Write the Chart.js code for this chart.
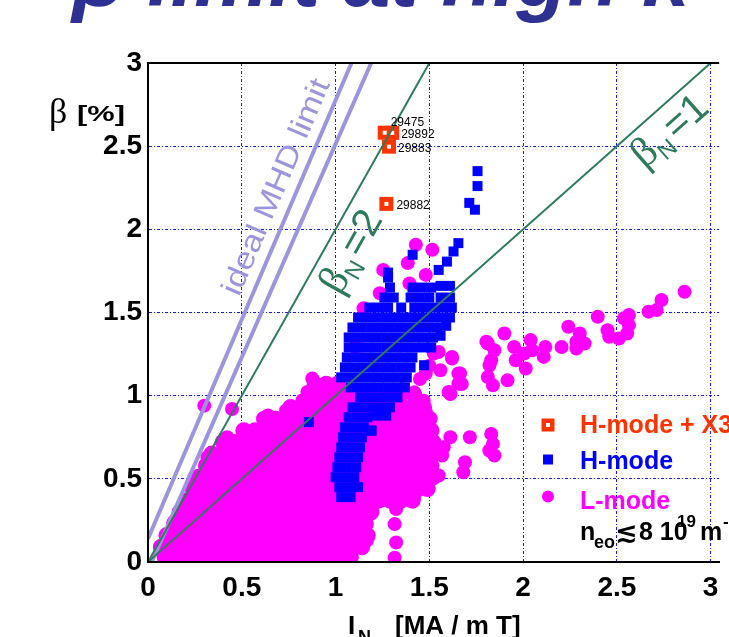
<!DOCTYPE html>
<html>
<head>
<meta charset="utf-8">
<script src="https://cdn.jsdelivr.net/npm/chart.js@4.4.1/dist/chart.umd.min.js"></script>
<style>
  html, body { margin: 0; padding: 0; background: #fff; overflow: hidden; }
  canvas { display: block; }
</style>
</head>
<body>
<canvas id="betaChart" width="729" height="637"></canvas>
<script>
// axes
const xTicks = [0, 0.5, 1, 1.5, 2, 2.5, 3];
const xTickLabels = ['0', '0.5', '1', '1.5', '2', '2.5', '3'];
const yTicks = [0, 0.5, 1, 1.5, 2, 2.5, 3];
const yTickLabels = ['0', '0.5', '1', '1.5', '2', '2.5', '3'];

// reference lines  beta = betaN * I_N  and the ideal MHD limit
const betaN1Line = [[0, 0], [3.05, 3.05]];
const betaN2Line = [[0, 0], [1.53, 3.06]];
const mhdLineA = [[0, 0.14], [1.085, 3.0]];
const mhdLineB = [[0.02, 0], [1.19, 3.0]];

// L-mode, dense part read row by row (beta value, then I_N values on that row)
const lModeRowBeta = [0.03, 0.09, 0.16, 0.23, 0.30, 0.37, 0.44, 0.51, 0.58, 0.65, 0.72, 0.79, 0.86, 0.93, 1.00, 1.07];
const lModeRowIN = [
  [0.09, 0.15, 0.21, 0.28, 0.34, 0.40, 0.47, 0.53, 0.59, 0.66, 0.72, 0.78, 0.85, 0.91, 0.97, 1.03, 1.08],
  [0.07, 0.13, 0.19, 0.25, 0.31, 0.37, 0.43, 0.49, 0.55, 0.61, 0.67, 0.73, 0.79, 0.85, 0.91, 0.97, 1.03, 1.09, 1.14],
  [0.10, 0.16, 0.22, 0.28, 0.34, 0.40, 0.46, 0.52, 0.58, 0.64, 0.70, 0.76, 0.82, 0.88, 0.94, 1.00, 1.06, 1.12, 1.17],
  [0.14, 0.20, 0.26, 0.32, 0.38, 0.44, 0.50, 0.56, 0.62, 0.68, 0.74, 0.80, 0.86, 0.92, 0.98, 1.04, 1.10, 1.16],
  [0.17, 0.23, 0.29, 0.35, 0.41, 0.47, 0.53, 0.59, 0.65, 0.71, 0.77, 0.83, 0.89, 0.95, 1.01, 1.07, 1.13, 1.19],
  [0.21, 0.27, 0.33, 0.39, 0.45, 0.51, 0.57, 0.63, 0.69, 0.75, 0.81, 0.87, 0.93, 0.99, 1.05, 1.11, 1.17, 1.23, 1.29, 1.35, 1.41],
  [0.24, 0.30, 0.36, 0.42, 0.48, 0.54, 0.60, 0.66, 0.72, 0.78, 0.84, 0.90, 0.96, 1.02, 1.08, 1.14, 1.20, 1.26, 1.32, 1.38, 1.44, 1.49],
  [0.27, 0.33, 0.39, 0.45, 0.51, 0.57, 0.63, 0.69, 0.75, 0.81, 0.87, 0.93, 0.99, 1.05, 1.11, 1.17, 1.23, 1.29, 1.35, 1.41, 1.47, 1.52],
  [0.31, 0.37, 0.43, 0.49, 0.55, 0.61, 0.67, 0.73, 0.79, 0.85, 0.91, 0.97, 1.03, 1.09, 1.15, 1.21, 1.27, 1.33, 1.39, 1.45, 1.51],
  [0.34, 0.40, 0.46, 0.52, 0.58, 0.64, 0.70, 0.76, 0.82, 0.88, 0.94, 1.00, 1.06, 1.12, 1.18, 1.24, 1.30, 1.36, 1.42, 1.48, 1.52],
  [0.40, 0.46, 0.52, 0.58, 0.64, 0.70, 0.76, 0.82, 0.88, 0.94, 1.00, 1.06, 1.12, 1.18, 1.24, 1.30, 1.36, 1.42, 1.48, 1.52],
  [0.51, 0.57, 0.63, 0.69, 0.75, 0.81, 0.87, 0.93, 0.99, 1.05, 1.11, 1.17, 1.23, 1.29, 1.35, 1.41, 1.47, 1.51],
  [0.62, 0.68, 0.74, 0.80, 0.86, 0.92, 0.98, 1.04, 1.10, 1.16, 1.22, 1.28, 1.34, 1.40, 1.46, 1.50],
  [0.76, 0.82, 0.88, 0.94, 1.00, 1.06, 1.12, 1.18, 1.24, 1.30, 1.36, 1.42, 1.47],
  [0.86, 0.92, 0.98, 1.04, 1.10, 1.16, 1.22, 1.28, 1.34, 1.42],
  [0.89, 0.95, 1.01]
];

// L-mode, scattered points  [I_N, beta]
const lModeScatter = [
  [0.30, 0.94], [0.448, 0.92], [0.876, 1.103], [0.85, 1.022], [0.909, 1.014], [0.824, 0.972],
  [0.736, 0.911], [0.64, 0.881], [0.509, 0.79], [0.422, 0.75], [0.405, 0.69], [0.317, 0.63],
  [0.247, 0.509], [0.195, 0.368], [0.142, 0.247], [0.107, 0.147], [0.081, 0.086],
  [1.612, 0.75], [1.577, 0.69], [1.568, 0.64], [1.716, 0.75], [1.69, 0.60], [1.681, 0.54],
  [1.83, 0.77], [1.839, 0.71], [1.847, 0.64], [1.82, 0.67], [1.55, 0.52], [1.612, 1.01],
  [1.673, 1.07], [1.323, 0.318], [1.315, 0.228], [1.323, 0.117], [1.315, 0.026], [1.166, 0.127],
  [1.419, 0.388], [1.481, 0.448],
  [2.861, 1.625], [2.738, 1.575], [2.712, 1.515], [2.669, 1.505], [2.564, 1.485], [2.538, 1.465],
  [2.564, 1.424], [2.555, 1.374], [2.511, 1.344], [2.45, 1.394], [2.398, 1.474], [2.459, 1.354],
  [2.302, 1.374], [2.241, 1.414], [2.284, 1.324], [2.328, 1.314], [2.205, 1.293], [2.284, 1.284],
  [2.118, 1.293], [2.11, 1.233], [2.04, 1.334], [2.048, 1.273], [2.005, 1.253], [2.014, 1.163],
  [1.952, 1.293], [1.961, 1.213], [1.90, 1.374], [1.804, 1.324], [1.847, 1.273], [1.821, 1.183],
  [1.812, 1.112], [1.839, 1.062], [1.917, 1.092], [1.664, 1.133], [1.655, 1.072], [1.612, 1.012],
  [1.621, 1.223], [1.55, 1.263], [1.559, 1.153],
  [1.428, 1.907], [1.516, 1.877], [1.385, 1.797], [1.254, 1.756], [1.236, 1.616], [1.394, 1.675],
  [1.481, 1.726], [1.149, 1.525], [1.105, 1.293], [1.524, 1.253], [1.621, 1.233], [1.481, 1.133],
  [1.655, 1.133], [1.603, 1.022], [1.481, 0.901], [1.812, 1.314], [1.83, 1.213], [0.992, 0.972],
  [1.42, 1.02], [1.47, 0.97], [1.45, 1.10], [1.50, 1.18]
];

// H-mode  [I_N, beta]
const hModePoints = [
  [1.03, 0.39], [1.08, 0.39],
  [1.02, 0.45], [1.07, 0.45], [1.12, 0.45],
  [1.00, 0.51], [1.05, 0.51], [1.10, 0.51],
  [1.01, 0.57], [1.06, 0.57], [1.11, 0.57],
  [1.02, 0.63], [1.07, 0.63], [1.12, 0.63],
  [1.03, 0.69], [1.08, 0.69], [1.13, 0.69],
  [1.04, 0.75], [1.09, 0.75], [1.14, 0.75],
  [1.05, 0.81], [1.10, 0.81], [1.15, 0.81], [1.19, 0.79],
  [1.07, 0.87], [1.12, 0.87], [1.17, 0.87], [1.22, 0.88], [1.27, 0.88],
  [1.09, 0.93], [1.14, 0.93], [1.19, 0.93], [1.24, 0.93], [1.29, 0.93],
  [1.13, 0.99], [1.18, 0.99], [1.23, 0.99], [1.28, 0.99], [1.33, 0.99],
  [1.08, 1.05], [1.13, 1.05], [1.18, 1.05], [1.23, 1.05], [1.28, 1.05], [1.33, 1.05], [1.37, 1.05],
  [1.03, 1.11], [1.08, 1.11], [1.13, 1.11], [1.18, 1.11], [1.23, 1.11], [1.28, 1.11], [1.33, 1.11], [1.38, 1.11],
  [1.05, 1.17], [1.10, 1.17], [1.15, 1.17], [1.20, 1.17], [1.25, 1.17], [1.30, 1.17], [1.35, 1.17], [1.40, 1.17],
  [1.06, 1.23], [1.11, 1.23], [1.16, 1.23], [1.21, 1.23], [1.26, 1.23], [1.31, 1.23], [1.36, 1.23], [1.41, 1.23],
  [1.07, 1.29], [1.12, 1.29], [1.17, 1.29], [1.22, 1.29], [1.27, 1.29], [1.32, 1.29], [1.37, 1.29], [1.42, 1.29], [1.47, 1.29], [1.51, 1.29],
  [1.07, 1.35], [1.12, 1.35], [1.17, 1.35], [1.22, 1.35], [1.27, 1.35], [1.32, 1.35], [1.37, 1.35], [1.42, 1.35], [1.47, 1.35], [1.52, 1.35], [1.56, 1.36],
  [1.09, 1.41], [1.14, 1.41], [1.19, 1.41], [1.24, 1.41], [1.29, 1.41], [1.34, 1.41], [1.39, 1.41], [1.44, 1.41], [1.49, 1.41], [1.54, 1.41], [1.59, 1.42],
  [1.12, 1.47], [1.17, 1.47], [1.22, 1.47], [1.27, 1.47], [1.32, 1.47], [1.37, 1.47], [1.42, 1.47], [1.47, 1.47], [1.52, 1.47], [1.57, 1.47], [1.61, 1.47],
  [1.18, 1.53], [1.23, 1.53], [1.28, 1.53], [1.35, 1.53], [1.42, 1.53], [1.47, 1.53], [1.52, 1.53], [1.57, 1.53], [1.62, 1.53],
  [1.26, 1.59], [1.31, 1.59], [1.40, 1.59], [1.45, 1.59], [1.50, 1.59], [1.56, 1.59], [1.61, 1.59],
  [1.29, 1.65], [1.41, 1.65], [1.46, 1.65], [1.51, 1.65], [1.56, 1.66], [1.61, 1.66],
  [1.28, 1.71], [1.28, 1.74],
  [1.411, 1.847], [1.55, 1.756], [1.594, 1.806], [1.629, 1.867], [1.655, 1.917],
  [1.757, 2.35], [1.757, 2.26], [1.713, 2.159], [1.743, 2.118],
  [0.858, 0.841], [1.472, 1.183], [1.192, 0.79]
];

// H-mode + X3 heating, with shot numbers
const x3Points = [[1.262, 2.581], [1.302, 2.58], [1.285, 2.497], [1.271, 2.153]];
const x3Shots = ['29475', '29892', '29883', '29882'];

const toXY = p => ({ x: p[0], y: p[1] });
const lModeDense = [];
lModeRowBeta.forEach((b, i) => lModeRowIN[i].forEach(v => lModeDense.push({ x: v, y: b })));

const green = '#2E7B5C';
const lilac = '#9B96DB';
const sans = '"Liberation Sans", Arial, sans-serif';

function lineSet(pts, color, width) {
  return {
    data: pts.map(toXY), showLine: true, borderColor: color, borderWidth: width,
    pointRadius: 0, fill: false, tension: 0, order: 0
  };
}

function drawRotated(ctx, parts, px, py, angle, sx, baseDy, color) {
  ctx.save();
  ctx.translate(px, py);
  ctx.rotate(angle);
  ctx.scale(sx, 1);
  ctx.fillStyle = color;
  ctx.textBaseline = 'alphabetic';
  let total = 0;
  parts.forEach(p => { ctx.font = p.font; p.w = ctx.measureText(p.text).width + (p.gap || 0); total += p.w; });
  let cx = -total / 2;
  parts.forEach(p => { ctx.font = p.font; ctx.fillText(p.text, cx + (p.gap || 0), baseDy + (p.dy || 0)); cx += p.w; });
  ctx.restore();
}

function lineAngle(x, y, line) {
  return Math.atan2(y.getPixelForValue(line[1][1]) - y.getPixelForValue(line[0][1]),
                    x.getPixelForValue(line[1][0]) - x.getPixelForValue(line[0][0]));
}

const annotate = {
  id: 'annotate',
  afterDatasetsDraw(chart) {
    const { ctx, chartArea: a, scales: { x, y } } = chart;
    ctx.save();

    // frame on top of the points
    ctx.strokeStyle = '#000';
    ctx.lineWidth = 2;
    ctx.beginPath();
    ctx.moveTo(a.left, a.top); ctx.lineTo(a.right, a.top);
    ctx.moveTo(a.left, a.top); ctx.lineTo(a.left, a.bottom); ctx.lineTo(a.right, a.bottom);
    ctx.stroke();

    // shot numbers
    const offs = [[6, -10], [9, 2], [9, 2], [10, 2]];
    ctx.fillStyle = '#000';
    ctx.font = '12px ' + sans;
    ctx.textBaseline = 'middle';
    ctx.textAlign = 'left';
    x3Points.forEach((p, i) => {
      ctx.fillText(x3Shots[i], x.getPixelForValue(p[0]) + offs[i][0], y.getPixelForValue(p[1]) + offs[i][1]);
    });

    // labels along the lines
    drawRotated(ctx, [{ text: 'ideal MHD limit', font: '30px ' + sans }],
      x.getPixelForValue(0.679), y.getPixelForValue(2.257), lineAngle(x, y, mhdLineA), 1.15, 10, lilac);
    drawRotated(ctx, [{ text: 'β', font: '42px "Liberation Serif"' }, { text: 'N', font: '24px ' + sans, dy: 8 },
      { text: '=2', font: '40px ' + sans, gap: 4 }],
      x.getPixelForValue(1.075), y.getPixelForValue(1.871), lineAngle(x, y, betaN2Line), 1, 14, green);
    drawRotated(ctx, [{ text: 'β', font: '42px "Liberation Serif"' }, { text: 'N', font: '24px ' + sans, dy: 8 },
      { text: '=1', font: '40px ' + sans, gap: 4 }],
      x.getPixelForValue(2.775), y.getPixelForValue(2.60), lineAngle(x, y, betaN1Line), 1, 14, green);

    // legend inside the plot
    const lx = a.left + 400, ly = a.top + 362;
    ctx.textBaseline = 'alphabetic';
    ctx.fillStyle = '#FF3300';
    ctx.fillRect(lx - 6.5, ly - 6.5, 13, 13);
    ctx.fillStyle = '#fff';
    ctx.fillRect(lx - 2, ly - 2, 4, 4);
    ctx.fillStyle = '#FF3300';
    ctx.font = 'bold 25px ' + sans;
    ctx.fillText('H-mode + X3', lx + 32, ly + 8);
    ctx.fillStyle = '#0000FF';
    ctx.fillRect(lx - 5, ly + 29.5, 10, 10);
    ctx.fillText('H-mode', lx + 32, ly + 44);
    ctx.fillStyle = '#FF00FF';
    ctx.beginPath(); ctx.arc(lx, ly + 71.5, 6, 0, Math.PI * 2); ctx.fill();
    ctx.fillText('L-mode', lx + 32, ly + 84);
    ctx.fillStyle = '#000';
    ctx.fillText('n', lx + 32, ly + 115);
    ctx.font = 'bold 18px ' + sans;
    ctx.fillText('eo', lx + 46, ly + 123);
    ctx.font = 'bold 27px "DejaVu Sans"';
    ctx.fillText('≲', lx + 67, ly + 116);
    ctx.font = 'bold 25px ' + sans;
    ctx.fillText('8 10', lx + 91, ly + 115);
    ctx.fillText('m', lx + 152, ly + 115);
    ctx.font = 'bold 17px ' + sans;
    ctx.fillText('19', lx + 129, ly + 102);
    ctx.fillText('-3', lx + 175, ly + 102);

    // axis titles
    ctx.font = '36px "Liberation Serif"';
    ctx.fillText('β', 49, 123);
    ctx.save();
    ctx.translate(77, 121);
    ctx.scale(1.4, 1);
    ctx.font = 'bold 22px ' + sans;
    ctx.fillText('[%]', 0, 0);
    ctx.restore();
    ctx.font = 'bold 26px ' + sans;
    ctx.fillText('I', 348, 634);
    ctx.fillText('[MA / m T]', 395, 634);
    ctx.font = 'bold 18px ' + sans;
    ctx.fillText('N', 358, 643);

    // slide title, cut by the top edge
    ctx.fillStyle = '#2E3192';
    ctx.font = 'italic bold 84px ' + sans;
    ctx.fillText('β limit at high κ', 72, 6);
    ctx.restore();
  }
};

const tickFont = { family: sans, size: 28, weight: 'bold' };

new Chart(document.getElementById('betaChart'), {
  type: 'scatter',
  data: {
    datasets: [
      lineSet(betaN1Line, green, 2),
      lineSet(betaN2Line, green, 2),
      lineSet(mhdLineA, lilac, 4),
      lineSet(mhdLineB, lilac, 4),
      { data: x3Points.map(toXY), pointStyle: 'rect', pointRadius: 2.83, backgroundColor: '#fff', borderWidth: 0, order: 1 },
      { data: x3Points.map(toXY), pointStyle: 'rect', pointRadius: 9.9, backgroundColor: '#FF3300', borderWidth: 0, order: 2 },
      { data: hModePoints.map(toXY), pointStyle: 'rect', pointRadius: 7.07, backgroundColor: '#0000FF', borderWidth: 0, order: 3 },
      { data: lModeScatter.map(toXY), pointStyle: 'circle', pointRadius: 7, backgroundColor: '#FF00FF', borderWidth: 0, order: 4 },
      { data: lModeDense, pointStyle: 'circle', pointRadius: 8.3, backgroundColor: '#FF00FF', borderWidth: 0, order: 5 }
    ]
  },
  options: {
    responsive: false,
    animation: false,
    events: [],
    devicePixelRatio: 1,
    layout: { padding: { top: 63, left: 0, right: 0, bottom: 0 } },
    plugins: { legend: { display: false }, tooltip: { enabled: false } },
    scales: {
      x: {
        type: 'linear', min: 0, max: 3.045,
        afterBuildTicks: s => { s.ticks = xTicks.map(v => ({ value: v })); },
        afterFit: s => { s.height = 75; },
        ticks: { callback: (v, i) => xTickLabels[i], color: '#000', autoSkip: false, maxRotation: 0, padding: 0,
                 font: Object.assign({ lineHeight: 1.86 }, tickFont) },
        grid: { color: '#1515FF', lineWidth: 1, drawTicks: false },
        border: { display: true, color: '#000', width: 2, dash: [3, 2, 1, 2] }
      },
      y: {
        type: 'linear', min: 0, max: 3,
        afterBuildTicks: s => { s.ticks = yTicks.map(v => ({ value: v })); },
        afterFit: s => { s.width = 148; },
        ticks: { callback: (v, i) => yTickLabels[i], color: '#000', autoSkip: false, padding: 6, font: tickFont },
        grid: { color: '#1515FF', lineWidth: 1, drawTicks: false },
        border: { display: true, color: '#000', width: 2, dash: [3, 2, 1, 2] }
      }
    }
  },
  plugins: [annotate]
});
</script>
</body>
</html>
